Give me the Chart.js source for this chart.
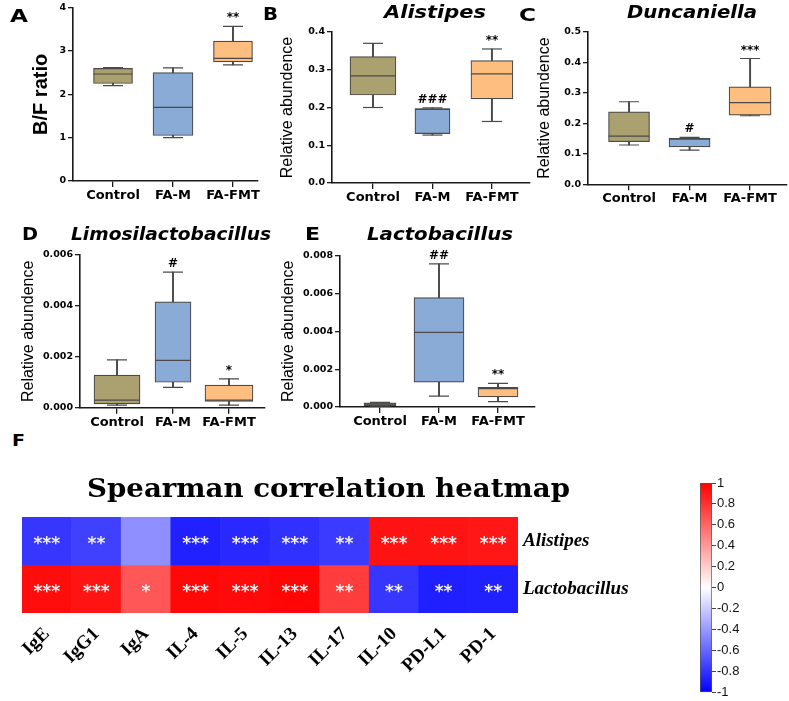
<!DOCTYPE html>
<html>
<head>
<meta charset="utf-8">
<script src="https://cdn.jsdelivr.net/npm/chart.js@4.4.1/dist/chart.umd.min.js"></script>
<style>
  html, body { margin: 0; padding: 0; background: #fff; }
  #page { position: relative; width: 789px; height: 701px; overflow: hidden; }
  canvas { position: absolute; }
  .txt { position: absolute; white-space: nowrap; line-height: 1; color: #000; transform-origin: 0 50%; }
</style>
</head>
<body>
<div id="page">
  <canvas id="cvA" width="262" height="210" style="left:0;top:0"></canvas>
  <canvas id="cvB" width="280" height="210" style="left:255px;top:0"></canvas>
  <canvas id="cvC" width="254" height="210" style="left:535px;top:0"></canvas>
  <canvas id="cvD" width="268" height="215" style="left:0;top:215px"></canvas>
  <canvas id="cvE" width="278" height="215" style="left:262px;top:215px"></canvas>
  <canvas id="cvF" width="640" height="201" style="left:0;top:500px"></canvas>
  <canvas id="cvBar" width="99" height="231" style="left:690px;top:470px"></canvas>
</div>
<script>
// groups on the box plots
const groups = ['Control', 'FA-M', 'FA-FMT'];
// five-number summaries per group: [min, q1, median, q3, max]
const bfRatio     = [[2.20, 2.25, 2.47, 2.60, 2.62], [1.00, 1.05, 1.70, 2.50, 2.61], [2.68, 2.75, 2.83, 3.23, 3.57]];
const alistipes   = [[0.200, 0.233, 0.284, 0.335, 0.370], [0.127, 0.131, 0.195, 0.197, 0.199], [0.163, 0.223, 0.289, 0.324, 0.355]];
const duncaniella = [[0.129, 0.140, 0.158, 0.238, 0.271], [0.112, 0.123, 0.148, 0.151, 0.154], [0.225, 0.227, 0.268, 0.320, 0.413]];
const limosi      = [[0.0001, 0.00015, 0.0003, 0.00128, 0.00188], [0.0008, 0.0010, 0.00186, 0.00416, 0.00533], [0.0001, 0.00025, 0.0003, 0.00089, 0.00113]];
const lacto       = [[0.00004, 0.00007, 0.00015, 0.00022, 0.00024], [0.00058, 0.00131, 0.00395, 0.00578, 0.00757], [0.00028, 0.00053, 0.00097, 0.00104, 0.00125]];
// significance marks
const sigA = ['', '', '**'];
const sigB = ['', '###', '**'];
const sigC = ['', '#', '***'];
const sigD = ['', '#', '*'];
const sigE = ['', '##', '**'];
// y tick labels
const ticksA = [0, 1, 2, 3, 4];
const ticksB = [0, 0.1, 0.2, 0.3, 0.4];
const ticksC = [0, 0.1, 0.2, 0.3, 0.4, 0.5];
const ticksD = [0, 0.002, 0.004, 0.006];
const ticksE = [0, 0.002, 0.004, 0.006, 0.008];

// heatmap
const cytokines = ['IgE', 'IgG1', 'IgA', 'IL-4', 'IL-5', 'IL-13', 'IL-17', 'IL-10', 'PD-L1', 'PD-1'];
const rowNames = ['Alistipes', 'Lactobacillus'];
const rAlistipes = [-0.79, -0.75, -0.44, -0.87, -0.84, -0.81, -0.77, 0.93, 0.92, 0.91];
const rLacto     = [0.95, 0.92, 0.66, 0.97, 0.96, 0.98, 0.76, -0.79, -0.88, -0.87];
const starsAlistipes = ['***', '**', '', '***', '***', '***', '**', '***', '***', '***'];
const starsLacto     = ['***', '***', '*', '***', '***', '***', '**', '**', '**', '**'];
const barTicks = [1, 0.8, 0.6, 0.4, 0.2, 0, -0.2, -0.4, -0.6, -0.8, -1];

const SANS = 'DejaVu Sans';
const SERIF = 'Liberation Serif';
const LINE = '#4a4a4a';
const AXIS = '#1a1a1a';
const boxFill = ['#aba170', '#8aabd6', '#fdbe80'];

function sigPlugin(marks, stats) {
  return {
    id: 'sig',
    afterDatasetsDraw(chart) {
      const {ctx, scales: {x, y}} = chart;
      ctx.save();
      ctx.fillStyle = '#000';
      ctx.textAlign = 'center';
      ctx.textBaseline = 'alphabetic';
      ctx.font = 'bold 12px "DejaVu Sans"';
      marks.forEach((m, i) => {
        if (!m) return;
        ctx.fillText(m, x.getPixelForValue(i + 1), y.getPixelForValue(stats[i][4]) - 5);
      });
      ctx.restore();
    }
  };
}

function boxPanel(id, stats, marks, o) {
  const datasets = [];
  // whiskers
  datasets.push({
    type: 'bar', order: 4, grouped: false, barThickness: 1.3,
    data: stats.map((s, i) => ({x: i + 1, y: [s[0], s[4]]})),
    backgroundColor: LINE
  });
  // boxes
  stats.forEach((s, i) => {
    datasets.push({
      type: 'bar', order: 3, grouped: false, barThickness: o.boxW[i],
      data: [{x: i + 1, y: [s[1], s[3]]}],
      backgroundColor: boxFill[i], borderColor: LINE, borderWidth: 1.2, borderSkipped: false
    });
  });
  // medians
  datasets.push({
    type: 'line', order: 1, showLine: false,
    data: stats.map((s, i) => ({x: i + 1, y: s[2]})),
    pointStyle: 'line', pointRadius: o.boxW.map(w => w / 2), pointBorderColor: LINE, pointBorderWidth: 1.2
  });
  // whisker caps
  datasets.push({
    type: 'line', order: 1, showLine: false,
    data: stats.flatMap((s, i) => [{x: i + 1, y: s[0]}, {x: i + 1, y: s[4]}]),
    pointStyle: 'line', pointRadius: 10, pointBorderColor: LINE, pointBorderWidth: 1.2
  });

  new Chart(document.getElementById(id), {
    type: 'bar',
    data: {datasets},
    options: {
      responsive: false,
      animation: false,
      layout: {autoPadding: false, padding: {left: 0, top: o.padTop, right: o.padRight, bottom: 0}},
      plugins: {legend: {display: false}, tooltip: {enabled: false}},
      scales: {
        x: {
          type: 'linear', min: o.xMin, max: o.xMax, offset: false,
          afterBuildTicks: s => { s.ticks = groups.map((g, i) => ({value: i + 1})); },
          afterFit: s => { s.height = o.xAxisH; },
          ticks: {callback: v => groups[v - 1], font: {family: SANS, weight: 'bold', size: 13}, color: '#000', padding: 1, maxRotation: 0, autoSkip: false},
          grid: {drawOnChartArea: false, offset: false, tickLength: 6, color: AXIS, lineWidth: 1.3},
          border: {color: AXIS, width: 1.6}
        },
        y: {
          type: 'linear', min: 0, max: o.ticks[o.ticks.length - 1],
          afterBuildTicks: s => { s.ticks = o.ticks.map(v => ({value: v})); },
          afterFit: s => { s.width = o.axisW; },
          ticks: {callback: v => v.toFixed(o.dec), font: {family: SANS, weight: 'bold', size: 9.5}, color: '#000', padding: 2},
          grid: {drawOnChartArea: false, tickLength: 5, color: AXIS, lineWidth: 1.3},
          border: {color: AXIS, width: 1.6},
          title: {display: true, text: o.yTitle, font: o.yFont, color: '#000', padding: {top: o.titlePad, bottom: 0}}
        }
      }
    },
    plugins: [sigPlugin(marks, stats)]
  });
}

const relFont = {family: 'Liberation Sans', size: 16};

boxPanel('cvA', bfRatio, sigA, {axisW: 73, padTop: 5, padRight: 4, xAxisH: 29, xMin: 0.333, xMax: 3.417,
  ticks: ticksA, dec: 0, boxW: [39, 40, 39], yTitle: 'B/F ratio', yFont: {family: 'Liberation Sans', weight: 'bold', size: 20}, titlePad: 29});
boxPanel('cvB', alistipes, sigB, {axisW: 77, padTop: 32, padRight: 5, xAxisH: 27, xMin: 0.311, xMax: 3.64,
  ticks: ticksB, dec: 1, boxW: [46, 35, 42], yTitle: 'Relative abundence', yFont: relFont, titlePad: 23.4});
boxPanel('cvC', duncaniella, sigC, {axisW: 53, padTop: 32, padRight: 2, xAxisH: 25.7, xMin: 0.322, xMax: 3.61,
  ticks: ticksC, dec: 1, boxW: [41, 41, 42], yTitle: 'Relative abundence', yFont: relFont, titlePad: 0.4});
boxPanel('cvD', limosi, sigD, {axisW: 80, padTop: 40, padRight: 3, xAxisH: 22.3, xMin: 0.339, xMax: 3.643,
  ticks: ticksD, dec: 3, boxW: [46, 36, 48], yTitle: 'Relative abundence', yFont: relFont, titlePad: 18.9});
boxPanel('cvE', lacto, sigE, {axisW: 78, padTop: 40.7, padRight: 5, xAxisH: 23, xMin: 0.322, xMax: 3.627,
  ticks: ticksE, dec: 3, boxW: [32, 50, 40], yTitle: 'Relative abundence', yFont: relFont, titlePad: 16.9});

// blue - white - red colour map
function corrColor(v) {
  const k = Math.round(255 * (1 - Math.abs(v)));
  return v < 0 ? `rgb(${k},${k},255)` : `rgb(255,${k},${k})`;
}

const starPlugin = {
  id: 'stars',
  afterDatasetsDraw(chart) {
    const ctx = chart.ctx;
    ctx.save();
    ctx.fillStyle = '#f0f0f0';
    ctx.font = 'bold 17px "DejaVu Sans"';
    ctx.textAlign = 'center';
    ctx.textBaseline = 'middle';
    chart.data.datasets.forEach((ds, di) => {
      chart.getDatasetMeta(di).data.forEach((el, i) => {
        const s = ds.marks[i];
        if (s) ctx.fillText(s, el.x, (el.y + el.base) / 2 + 4);
      });
    });
    ctx.restore();
  }
};

new Chart(document.getElementById('cvF'), {
  type: 'bar',
  data: {
    labels: cytokines,
    datasets: [
      {label: rowNames[0], data: cytokines.map(() => [1, 2]), backgroundColor: rAlistipes.map(corrColor), marks: starsAlistipes},
      {label: rowNames[1], data: cytokines.map(() => [0, 1]), backgroundColor: rLacto.map(corrColor), marks: starsLacto}
    ]
  },
  options: {
    responsive: false,
    animation: false,
    layout: {autoPadding: false, padding: {left: 22, top: 17, right: 0, bottom: 0}},
    datasets: {bar: {grouped: false, categoryPercentage: 1, barPercentage: 1, borderWidth: 0}},
    plugins: {legend: {display: false}, tooltip: {enabled: false}},
    scales: {
      x: {
        grid: {display: false}, border: {display: false},
        afterFit: s => { s.height = 88; },
        ticks: {font: {family: SERIF, weight: 'bold', size: 19}, color: '#000', minRotation: 45, maxRotation: 45, padding: 2, autoSkip: false}
      },
      y: {
        position: 'right', min: 0, max: 2,
        afterBuildTicks: s => { s.ticks = [{value: 1.5}, {value: 0.5}]; },
        afterFit: s => { s.width = 122; },
        ticks: {callback: v => (v > 1 ? rowNames[0] : rowNames[1]), font: {family: SERIF, weight: 'bold', style: 'italic', size: 19}, color: '#000', padding: 5},
        grid: {display: false, drawTicks: false}, border: {display: false}
      }
    }
  },
  plugins: [starPlugin]
});

// colour bar
new Chart(document.getElementById('cvBar'), {
  type: 'bar',
  data: {
    labels: [''],
    datasets: [{
      data: [[-1, 1]],
      backgroundColor: c => {
        const y = c.chart.scales.y;
        if (!y) return '#ffffff';
        const p0 = y.getPixelForValue(-1), p1 = y.getPixelForValue(1);
        if (!isFinite(p0) || !isFinite(p1)) return '#ffffff';
        const g = c.chart.ctx.createLinearGradient(0, p0, 0, p1);
        g.addColorStop(0, '#0000ff');
        g.addColorStop(0.5, '#ffffff');
        g.addColorStop(1, '#ff0000');
        return g;
      },
      borderColor: '#555', borderWidth: 1, borderSkipped: false,
      categoryPercentage: 1, barPercentage: 1
    }]
  },
  options: {
    responsive: false,
    animation: false,
    layout: {autoPadding: false, padding: {left: 10, top: 13, right: 0, bottom: 6}},
    plugins: {legend: {display: false}, tooltip: {enabled: false}},
    scales: {
      x: {display: false},
      y: {
        position: 'right', min: -1, max: 1,
        afterBuildTicks: s => { s.ticks = barTicks.map(v => ({value: v})); },
        afterFit: s => { s.width = 77; },
        ticks: {callback: v => String(Math.round(v * 10) / 10), font: {family: 'Liberation Sans', size: 13}, color: '#111', padding: 1},
        grid: {drawOnChartArea: false, tickLength: 4, color: '#444'},
        border: {display: false}
      }
    }
  }
});

// panel letters and titles, fitted to the width they have in the figure
const texts = [
  {t: 'A', left: 10, cy: 16, w: 18, font: 'bold 17px "DejaVu Sans"'},
  {t: 'B', left: 263, cy: 14, w: 15, font: 'bold 17px "DejaVu Sans"'},
  {t: 'C', left: 519, cy: 15, w: 17, font: 'bold 17px "DejaVu Sans"'},
  {t: 'D', left: 22, cy: 234, w: 16, font: 'bold 17px "DejaVu Sans"'},
  {t: 'E', left: 305, cy: 234, w: 15, font: 'bold 17px "DejaVu Sans"'},
  {t: 'F', left: 12, cy: 441, w: 13, font: 'bold 15px "DejaVu Sans"'},
  {t: 'Alistipes', cx: 435, cy: 12, w: 102, font: 'italic bold 17px "DejaVu Sans"'},
  {t: 'Duncaniella', cx: 692, cy: 12, w: 130, font: 'italic bold 17px "DejaVu Sans"'},
  {t: 'Limosilactobacillus', cx: 171, cy: 234, w: 200, font: 'italic bold 17px "DejaVu Sans"'},
  {t: 'Lactobacillus', cx: 440, cy: 234, w: 146, font: 'italic bold 17px "DejaVu Sans"'},
  {t: 'Spearman correlation heatmap', cx: 328, cy: 488, w: 483, font: 'bold 26px "DejaVu Serif"'}
];
const page = document.getElementById('page');
texts.forEach(d => {
  const el = document.createElement('div');
  el.className = 'txt';
  el.textContent = d.t;
  el.style.font = d.font;
  el.style.lineHeight = '1';
  page.appendChild(el);
  const r = el.getBoundingClientRect();
  const left = d.left !== undefined ? d.left : d.cx - d.w / 2;
  el.style.left = left + 'px';
  el.style.top = (d.cy - r.height / 2) + 'px';
  el.style.transform = `scaleX(${d.w / r.width})`;
});
</script>
</body>
</html>
